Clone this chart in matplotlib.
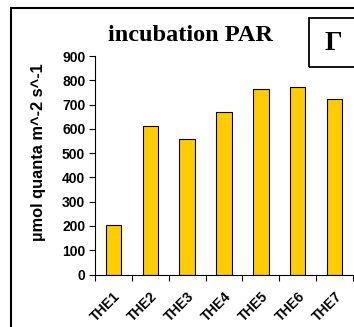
import matplotlib.pyplot as plt
from matplotlib.patches import Rectangle
from matplotlib.transforms import ScaledTranslation

sites = ["THE1", "THE2", "THE3", "THE4", "THE5", "THE6", "THE7"]
par = [205, 610, 560, 670, 763, 773, 722]
yticks = [0, 100, 200, 300, 400, 500, 600, 700, 800, 900]

W, H = 354, 327
fig = plt.figure(figsize=(W / 100, H / 100), dpi=100)
fig.patch.set_facecolor("white")

# plot area in pixel coordinates
left, right, top, bottom = 95, 353, 56, 274.5
ax = fig.add_axes([left / W, 1 - bottom / H, (right - left) / W, (bottom - top) / H])

x = list(range(len(sites)))
ax.bar(x, par, width=0.42, color="#FFCC00", edgecolor="black", linewidth=0.8)
ax.set_xlim(-0.5, len(sites) - 0.5)
ax.set_ylim(0, 900)
ax.set_yticks(yticks)
ax.set_yticklabels([str(v) for v in yticks], fontweight="bold", fontsize=10,
                   family="Liberation Sans")
ax.set_xticks([i - 0.5 for i in range(len(sites) + 1)])
ax.set_xticklabels([])
ax.set_xticks(x, minor=True)
ax.set_xticklabels(sites, minor=True, rotation=45, ha="right", va="top",
                   rotation_mode="anchor", fontweight="bold", fontsize=10,
                   family="Liberation Sans")
shift = ScaledTranslation(-0.1, 0, fig.dpi_scale_trans)
for lab in ax.get_xticklabels(minor=True):
    lab.set_transform(lab.get_transform() + shift)
ax.tick_params(axis="x", which="minor", length=0, pad=10.5)
ax.tick_params(axis="x", which="major", direction="out", length=4, width=0.8)
ax.tick_params(axis="y", direction="out", length=4, width=0.8, pad=3)
for s in ["top", "right"]:
    ax.spines[s].set_visible(False)
ax.spines["left"].set_linewidth(0.8)
ax.spines["bottom"].set_linewidth(0.8)

ax.set_ylabel("µmol quanta m^-2 s^-1", fontweight="bold", fontsize=11.8,
              family="Liberation Sans")
ax.yaxis.set_label_coords(-0.19, 0.56)

fig.text(190 / W, 1 - 41 / H, "incubation PAR", ha="center", va="baseline",
         fontsize=17.5, fontweight="bold", family="Liberation Serif")

# outer frame and panel letter box
fig.patches.append(Rectangle((11 / W, -0.1), 1.2, 1 - 8 / H + 0.1,
                             transform=fig.transFigure, fill=False,
                             edgecolor="black", linewidth=1.5))
fig.patches.append(Rectangle((308.5 / W, 1 - 66.5 / H), 0.2, 48.5 / H,
                             transform=fig.transFigure, fill=False,
                             edgecolor="black", linewidth=1.3))
fig.text(333 / W, 1 - 50 / H, "Γ", ha="center", va="baseline",
         fontsize=20, fontweight="bold", family="Liberation Serif")

fig.savefig("out.png", dpi=100)
